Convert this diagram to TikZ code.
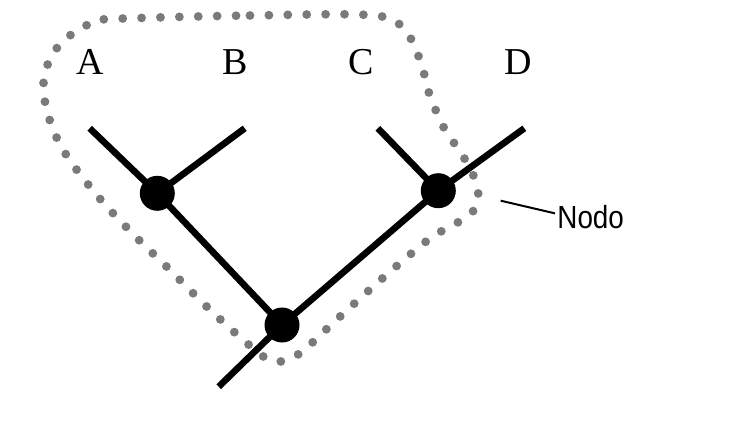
\documentclass[tikz,border=0pt]{standalone}
\usepackage{fontspec}
\setmainfont{Liberation Serif}
\newfontfamily\nodofont{Liberation Sans}
\usepackage{tikz}
\usetikzlibrary{positioning}

\begin{document}
\begin{tikzpicture}[
    x=0.5pt, y=-0.5pt,
    branch/.style={line width=3.3pt},
    knot/.style={circle, fill=black, inner sep=0pt, minimum size=17.5pt},
    taxon/.style={anchor=base, inner sep=0pt, font=\fontsize{19}{19}\selectfont},
    clade/.style={draw=black!52, line width=4.4pt, line cap=round, dash pattern=on 0pt off 9.45pt}
]
\useasboundingbox (0,0) rectangle (731,421);
% grupo punteado
\draw[clade] plot[smooth cycle, tension=0.55] coordinates {
    (111,19) (250,15.5) (375,15.5) (406,32) (421,63) (429,93) (444,128)
    (463,156) (477,185) (476,207) (460,221) (432,237) (399,264) (366,293)
    (333,323) (304,350) (287,360) (269,360) (241,338) (205,305) (168,268)
    (135,236) (101,200) (71,162) (55,134) (45,102) (45,72) (61,43) (91,23)};
% puntas
\coordinate (tipA) at (89.7,128.3);
\coordinate (tipB) at (244.7,128.3);
\coordinate (tipC) at (377.9,128.3);
\coordinate (tipD) at (524.3,128.3);
\coordinate (base) at (218.7,386.7);
% nodos
\node (ab) [knot] at (157.3,193.3) {};
\node (cd) [knot] at (438.3,190.7) {};
\node (root) [knot] at (282,325) {};
\draw[branch] (tipA) -- (ab.center);
\draw[branch] (tipB) -- (ab.center);
\draw[branch] (tipC) -- (cd.center);
\draw[branch] (tipD) -- (cd.center);
\draw[branch] (ab.center) -- (root.center);
\draw[branch] (cd.center) -- (root.center);
\draw[branch] (root.center) -- (base);
% etiquetas
\node (la) [taxon] at (90.3,74.5) {A};
\node (lb) [taxon] at (235.5,74.5) {B};
\node (lc) [taxon] at (360.7,74.5) {C};
\node (ld) [taxon] at (518.3,74.5) {D};
\node (nodo) [anchor=base west, inner sep=0pt, font=\nodofont\fontsize{16}{16}\selectfont] at (557,228.3) {\scalebox{0.87}[1]{Nodo}};
\coordinate (nptr) at (500.7,200.7);
\draw[line width=1pt] (nptr) -- ([shift={(-2,-3.5)}]nodo.west);
\end{tikzpicture}
\end{document}
